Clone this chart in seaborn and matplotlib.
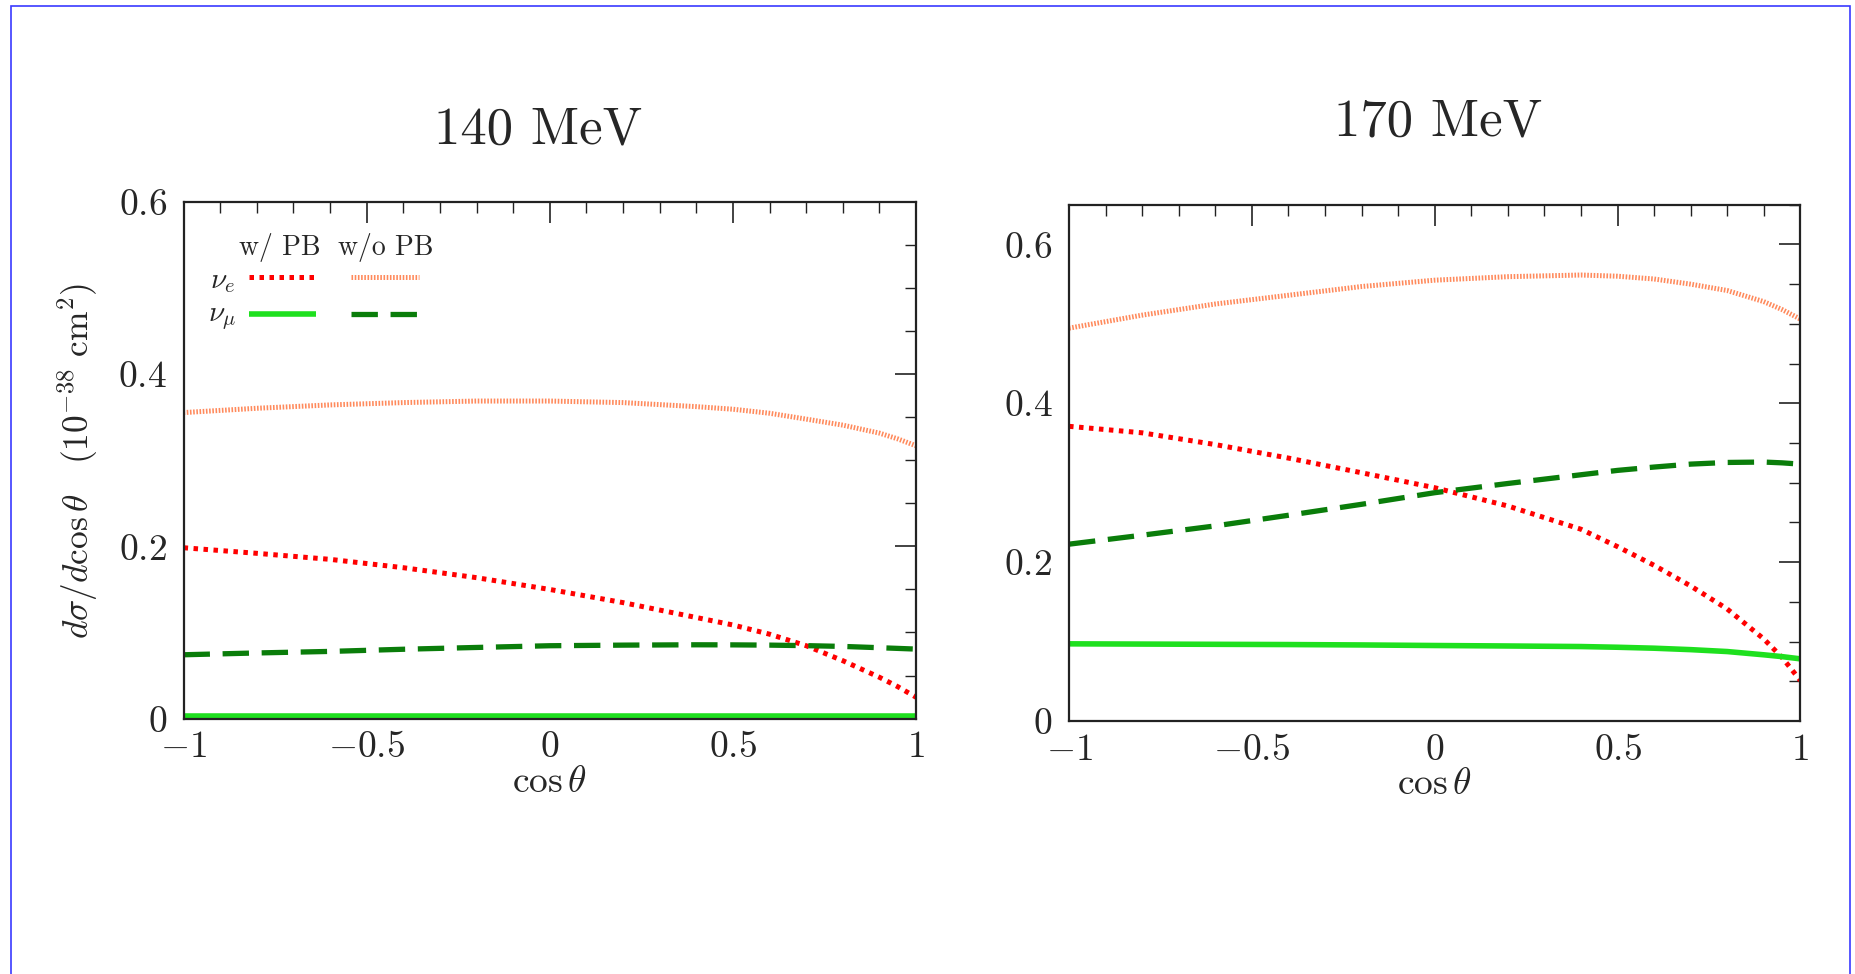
import matplotlib
matplotlib.use("Agg")
import matplotlib.pyplot as plt
from matplotlib.ticker import MultipleLocator, FuncFormatter
from matplotlib.lines import Line2D
from matplotlib.patches import Rectangle
import seaborn as sns

# cos(theta) grid
cos_theta = [-1, -0.8, -0.6, -0.4, -0.2, 0, 0.2, 0.4, 0.5, 0.6, 0.7, 0.8, 0.9, 0.95, 1]

# 140 MeV
nue_pb_140 = [0.1985, 0.192, 0.185, 0.1753, 0.1637, 0.150, 0.1347, 0.1174, 0.1087, 0.098,
              0.0846, 0.0672, 0.0479, 0.037, 0.0247]
nue_nopb_140 = [0.3556, 0.3606, 0.3645, 0.3672, 0.369, 0.369, 0.3672, 0.3625, 0.3595, 0.3548,
                0.348, 0.341, 0.3317, 0.325, 0.317]
numu_pb_140 = [0.003, 0.003, 0.003, 0.003, 0.003, 0.003, 0.003, 0.003, 0.003, 0.003,
               0.003, 0.003, 0.003, 0.003, 0.003]
numu_nopb_140 = [0.0741, 0.0762, 0.078, 0.0805, 0.0826, 0.0846, 0.0853, 0.0857, 0.0856, 0.0853,
                 0.0847, 0.0838, 0.0823, 0.0815, 0.0807]

# 170 MeV
nue_pb_170 = [0.371, 0.3628, 0.348, 0.331, 0.3125, 0.2937, 0.2707, 0.2414, 0.2195, 0.1960,
              0.170, 0.141, 0.1033, 0.080, 0.051]
nue_nopb_170 = [0.4946, 0.511, 0.525, 0.536, 0.547, 0.555, 0.5594, 0.5615, 0.560, 0.5565,
                0.550, 0.542, 0.528, 0.518, 0.506]
numu_pb_170 = [0.0971, 0.0968, 0.0965, 0.0962, 0.0957, 0.095, 0.0944, 0.0937, 0.0928, 0.0916,
               0.0898, 0.0874, 0.0833, 0.081, 0.0782]
numu_nopb_170 = [0.2226, 0.2339, 0.2456, 0.259, 0.2728, 0.2874, 0.299, 0.310, 0.3155, 0.3197,
                 0.3234, 0.3255, 0.326, 0.325, 0.3234]

titles = ["140 MeV", "170 MeV"]
y_max = [0.6, 0.65]

sns.set_style("white")
plt.rcParams["font.family"] = ["cmr10", "DejaVu Serif"]
plt.rcParams["mathtext.fontset"] = "cm"
plt.rcParams["axes.unicode_minus"] = True

# style of each curve: (color, linewidth, dash pattern or None for solid)
styles = {
    "nue_pb": ("#ff0000", 3.6, (0.9, 1.1)),
    "nue_nopb": ("#ff8a5c", 3.6, (0.32, 0.32)),
    "numu_pb": ("#1ee01e", 4.0, None),
    "numu_nopb": ("#0a7d0a", 3.8, (5.0, 2.4)),
}

fig = plt.figure(figsize=(18.56, 9.74), dpi=100)
ax1 = fig.add_axes([0.0989, 0.2623, 0.3947, 0.530])
ax2 = fig.add_axes([0.5760, 0.2598, 0.3940, 0.530])

panels = [
    (ax1, {"nue_nopb": nue_nopb_140, "nue_pb": nue_pb_140,
           "numu_nopb": numu_nopb_140, "numu_pb": numu_pb_140}),
    (ax2, {"nue_nopb": nue_nopb_170, "nue_pb": nue_pb_170,
           "numu_nopb": numu_nopb_170, "numu_pb": numu_pb_170}),
]

fmt = FuncFormatter(lambda v, _: f"${v:g}$")

for i, (ax, series) in enumerate(panels):
    for key, vals in series.items():
        color, lw, dash = styles[key]
        kw = dict(color=color, linewidth=lw)
        if dash is not None:
            kw["dashes"] = dash
            kw["dash_capstyle"] = "butt"
        sns.lineplot(x=cos_theta, y=vals, ax=ax, **kw)
    ax.set_xlim(-1, 1)
    ax.set_ylim(0, y_max[i])
    ax.xaxis.set_major_locator(MultipleLocator(0.5))
    ax.xaxis.set_minor_locator(MultipleLocator(0.1))
    ax.yaxis.set_major_locator(MultipleLocator(0.2))
    ax.yaxis.set_minor_locator(MultipleLocator(0.05))
    ax.xaxis.set_major_formatter(fmt)
    ax.yaxis.set_major_formatter(fmt)
    ax.tick_params(which="both", direction="in", top=True, right=True,
                   labelsize=27, color="#222222")
    ax.tick_params(which="major", length=15, width=1.2)
    ax.tick_params(axis="x", which="major", pad=9)
    ax.tick_params(axis="y", which="major", pad=12)
    ax.tick_params(which="minor", length=8, width=1.0)
    for s in ax.spines.values():
        s.set_linewidth(1.6)
        s.set_color("#222222")
    ax.set_xlabel(r"$\cos\theta$", fontsize=27, labelpad=1)
    ax.set_ylabel("")
    ax.grid(False)

ax1.set_ylabel(r"$d\sigma/d\cos\theta\quad(10^{-38}\ \mathrm{cm}^2)$", fontsize=25.5, labelpad=13)

fig.text(538 / 1856, 1 - 130 / 974, titles[0], fontsize=38, ha="center", va="center")
fig.text(1438 / 1856, 1 - 122 / 974, titles[1], fontsize=38, ha="center", va="center")

# hand-made legend in the first panel
ax1.text(0.131, 0.913, "w/ PB", transform=ax1.transAxes, fontsize=20, ha="center", va="center")
ax1.text(0.276, 0.913, "w/o PB", transform=ax1.transAxes, fontsize=20, ha="center", va="center")
ax1.text(0.053, 0.846, r"$\nu_e$", transform=ax1.transAxes, fontsize=21, ha="center", va="center")
ax1.text(0.053, 0.774, r"$\nu_\mu$", transform=ax1.transAxes, fontsize=21, ha="center", va="center")
rows = [(0.856, "nue_pb", "nue_nopb"), (0.784, "numu_pb", "numu_nopb")]
for yy, k_pb, k_nopb in rows:
    for (x0, x1), key in [((0.089, 0.181), k_pb), ((0.229, 0.321), k_nopb)]:
        color, lw, dash = styles[key]
        ln = Line2D([x0, x1], [yy, yy], transform=ax1.transAxes, color=color,
                    linewidth=lw, solid_capstyle="butt", dash_capstyle="butt")
        if dash is not None:
            ln.set_dashes(dash)
        ax1.add_line(ln)

# thin blue frame around the slide
fig.patches.append(Rectangle((11 / 1856, -0.02), 1839 / 1856, 1.02 - 6 / 974,
                             transform=fig.transFigure, fill=False,
                             edgecolor="#3a3aff", linewidth=1.2))

fig.savefig("out.png", dpi=100)
